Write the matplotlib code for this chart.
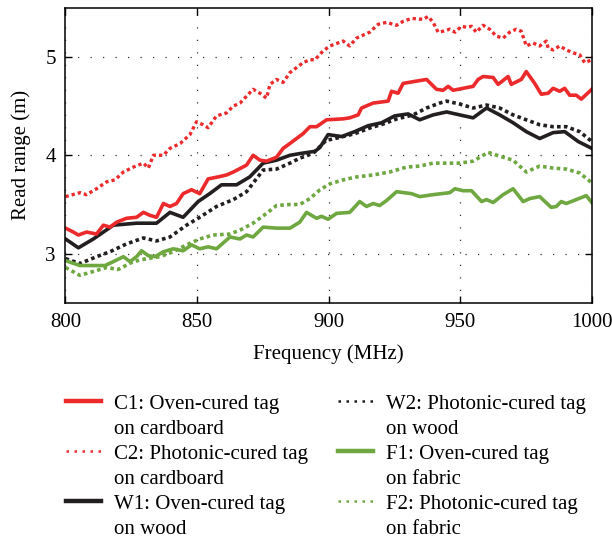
import matplotlib.pyplot as plt
from matplotlib.lines import Line2D

# C1: oven-cured tag on cardboard
c1_f = [800, 803, 804.9, 808, 811.8, 814.4, 816.9, 819.4, 823.2, 827, 829.6, 832.1, 834.6, 837.2,
        839.7, 842.2, 844.7, 847.9, 851, 854.2, 858, 861.2, 863.8, 868.8, 871.3, 873.9, 876.4, 880.2,
        882.7, 885.3, 887.8, 890.3, 892.9, 895.4, 899.2, 905.5, 908, 911.2, 912.5, 916.9, 922.6, 923.9,
        926.4, 928.3, 932.7, 937.2, 941, 943.5, 945.4, 947.3, 954.9, 956.8, 958.7, 962.5, 964.4, 968.2,
        969.4, 973.2, 975.1, 978.3, 980.8, 983.4, 985.3, 987.8, 989.7, 991.6, 994.1, 996, 1000]
c1_v = [3.26, 3.22, 3.19, 3.22, 3.20, 3.29, 3.27, 3.32, 3.36, 3.37, 3.42, 3.39, 3.37, 3.51,
        3.48, 3.51, 3.61, 3.65, 3.61, 3.76, 3.78, 3.80, 3.83, 3.90, 4.00, 3.95, 3.94, 3.98,
        4.07, 4.12, 4.17, 4.22, 4.29, 4.29, 4.36, 4.37, 4.38, 4.41, 4.48, 4.53, 4.55, 4.65,
        4.63, 4.73, 4.75, 4.77, 4.67, 4.66, 4.70, 4.66, 4.70, 4.77, 4.80, 4.79, 4.72, 4.80,
        4.72, 4.77, 4.85, 4.73, 4.62, 4.63, 4.68, 4.65, 4.68, 4.61, 4.61, 4.57, 4.67]

# C2: photonic-cured tag on cardboard
c2_f = [800, 805.5, 808, 811.8, 815.6, 818.8, 822, 825.8, 829.6, 831.5, 833.4, 837.2, 839.7, 843.6,
        847.3, 849.8, 852.3, 854.2, 857.4, 861.2, 863.8, 866.3, 868.8, 871.3, 873.9, 876.4, 877.7, 880.2,
        882.7, 885.3, 887.8, 890.3, 892.8, 894.8, 897.9, 900.5, 905.5, 908, 910.6, 915.6, 918.8, 922,
        925.8, 928.3, 931.5, 935.9, 937.8, 939.7, 941.6, 943.5, 946, 948, 950.5, 952.4, 954.3, 956.1,
        958.7, 961.2, 963.7, 966.3, 968.8, 971.3, 973.2, 975.1, 977.7, 980.2, 982.7, 983.4, 985.3, 987.8,
        990.3, 992.9, 995.4, 997.3, 1000]
c2_v = [3.58, 3.62, 3.60, 3.66, 3.73, 3.75, 3.83, 3.88, 3.92, 3.87, 4.00, 4.00, 4.07, 4.12,
        4.21, 4.34, 4.31, 4.28, 4.40, 4.43, 4.50, 4.53, 4.60, 4.67, 4.63, 4.58, 4.72, 4.77,
        4.74, 4.84, 4.89, 4.94, 4.97, 4.97, 5.06, 5.11, 5.16, 5.11, 5.19, 5.25, 5.33, 5.35,
        5.32, 5.36, 5.39, 5.38, 5.41, 5.35, 5.25, 5.26, 5.28, 5.25, 5.31, 5.30, 5.31, 5.25,
        5.32, 5.28, 5.21, 5.19, 5.25, 5.28, 5.26, 5.11, 5.14, 5.11, 5.16, 5.09, 5.07, 5.11,
        5.07, 5.04, 5.02, 4.94, 4.97]

# W1: oven-cured tag on wood
w1_f = [800, 804.9, 810.6, 818.2, 827, 834.6, 839.7, 844.7, 850.4, 854.8, 859.3, 865, 870, 875.1,
        880.2, 885.3, 889.7, 894.8, 896.7, 899.8, 904.9, 909.9, 915, 920.1, 925.1, 930.2, 934.6, 939.7,
        944.8, 949.8, 954.9, 960, 965, 970.1, 975.1, 980.2, 985.3, 989.7, 994.8, 1000]
w1_v = [3.15, 3.06, 3.15, 3.29, 3.31, 3.31, 3.42, 3.37, 3.53, 3.61, 3.70, 3.70, 3.78, 3.92,
        3.95, 4.00, 4.02, 4.04, 4.08, 4.21, 4.19, 4.24, 4.30, 4.33, 4.40, 4.42, 4.36, 4.41,
        4.44, 4.41, 4.38, 4.48, 4.41, 4.33, 4.24, 4.17, 4.23, 4.24, 4.14, 4.07]

# W2: photonic-cured tag on wood
w2_f = [800, 805.5, 811.8, 816.9, 823.2, 829.6, 834.6, 839.7, 846, 851, 857.4, 863.8, 868.8, 875.1,
        880.2, 885.3, 889, 894.1, 899, 904, 910, 916, 921, 926, 932.1, 937.2, 942.2, 944.8, 949.8,
        954.9, 960, 965, 970.1, 975.1, 980.2, 985.3, 990.3, 995.4, 1000]
w2_v = [2.95, 2.90, 2.97, 3.02, 3.10, 3.16, 3.13, 3.17, 3.29, 3.37, 3.48, 3.55, 3.63, 3.85,
        3.86, 3.92, 3.97, 4.02, 4.15, 4.18, 4.22, 4.28, 4.32, 4.37, 4.41, 4.48, 4.53, 4.55, 4.52,
        4.48, 4.51, 4.48, 4.41, 4.36, 4.31, 4.29, 4.29, 4.24, 4.14]

# F1: oven-cured tag on fabric
f1_f = [800, 805.5, 810.6, 815, 818.2, 822, 824.5, 827, 828.9, 831.5, 834, 837.2, 840.9, 844.7,
        847.9, 851, 854.2, 857.4, 862.5, 866.3, 868.8, 871.3, 875.1, 880.2, 885.3, 889, 891.6, 895.4,
        897.3, 899.8, 903, 908, 911.8, 914.4, 916.9, 919.4, 922, 925.8, 931.5, 934.6, 939.7, 946,
        948, 951.1, 954.3, 958.1, 960, 962.5, 966.3, 970.1, 973.9, 976.4, 980.2, 984.6, 986.5, 988.4,
        990.3, 994.1, 997.9, 1000]
f1_v = [2.93, 2.88, 2.88, 2.88, 2.92, 2.97, 2.92, 2.97, 3.03, 2.98, 2.97, 3.02, 3.05, 3.03,
        3.09, 3.05, 3.07, 3.05, 3.17, 3.15, 3.19, 3.17, 3.27, 3.26, 3.26, 3.32, 3.42, 3.36,
        3.38, 3.35, 3.41, 3.42, 3.53, 3.48, 3.51, 3.49, 3.54, 3.63, 3.61, 3.58, 3.60, 3.62,
        3.66, 3.64, 3.64, 3.53, 3.55, 3.52, 3.60, 3.66, 3.53, 3.56, 3.58, 3.47, 3.48, 3.53,
        3.51, 3.55, 3.59, 3.52]

# F2: photonic-cured tag on fabric
f2_f = [800, 805.5, 810.6, 815.6, 820, 825.8, 830.8, 835.9, 840.9, 846, 851, 856.1, 862.5, 866.3,
        871.3, 876.4, 880.2, 885.3, 889, 892.9, 896.7, 900.5, 905.5, 910.6, 916.9, 923.2, 929.6, 934.6,
        939.7, 944.8, 949.8, 954.9, 958.1, 960.6, 965, 970.1, 975.1, 980.2, 985.3, 990.3, 995.4, 1000]
f2_v = [2.86, 2.78, 2.82, 2.86, 2.84, 2.92, 2.95, 2.97, 3.02, 3.09, 3.15, 3.19, 3.20, 3.24,
        3.31, 3.41, 3.49, 3.50, 3.50, 3.56, 3.65, 3.71, 3.75, 3.78, 3.80, 3.83, 3.88, 3.89,
        3.92, 3.92, 3.92, 3.94, 3.99, 4.03, 3.99, 3.95, 3.83, 3.89, 3.87, 3.86, 3.82, 3.72]

labels = [('C1: Oven-cured tag', 'on cardboard'), ('C2: Photonic-cured tag', 'on cardboard'),
          ('W1: Oven-cured tag', 'on wood'), ('W2: Photonic-cured tag', 'on wood'),
          ('F1: Oven-cured tag', 'on fabric'), ('F2: Photonic-cured tag', 'on fabric')]

red = '#ec2a2c'
black = '#231f20'
green = '#6fa841'
dots = (0, (1, 0.9))

plt.rcParams['font.family'] = 'Liberation Serif'
plt.rcParams['font.size'] = 15

W, H = 612, 541
fig = plt.figure(figsize=(W / 100, H / 100), dpi=100)
ax = fig.add_axes([0.107, 0.44, 0.86, 0.546])

ax.plot(c2_f, c2_v, color=red, lw=2.4, ls=dots)
ax.plot(f2_f, f2_v, color=green, lw=2.6, ls=dots)
ax.plot(w2_f, w2_v, color=black, lw=2.6, ls=dots)
ax.plot(f1_f, f1_v, color=green, lw=2.6)
ax.plot(w1_f, w1_v, color=black, lw=2.6)
ax.plot(c1_f, c1_v, color=red, lw=2.6)

ax.set_xlim(800, 1000)
ax.set_ylim(2.5, 5.5)
ax.set_xticks([800, 850, 900, 950, 1000])
ax.set_yticks([3, 4, 5])
ax.grid(True, color='#333333', lw=0.9, ls=(0, (1, 9)))
ax.tick_params(direction='in', top=True, right=True, length=5, width=1, pad=7)
for s in ax.spines.values():
    s.set_linewidth(1.1)
ax.set_xlabel('Frequency (MHz)', labelpad=9)
ax.set_ylabel('Read range (m)', labelpad=10)

# legend drawn by hand: handle lines up with the first text line
styles = [(red, '-'), (red, ':'), (black, '-'), (black, ':'), (green, '-'), (green, ':')]
for i, (lab, (col, ls)) in enumerate(zip(labels, styles)):
    c, r = divmod(i, 3)
    x0 = 66 + c * 272
    y0 = 401 + r * 50
    if ls == '-':
        fig.add_artist(Line2D([x0 / W, (x0 + 35) / W], [1 - y0 / H] * 2, color=col, lw=3.2))
    else:
        fig.add_artist(Line2D([x0 / W, (x0 + 35) / W], [1 - y0 / H] * 2, color=col, lw=1.8,
                              ls=(0, (1, 2.2))))
    tx = (x0 + 48) / W
    fig.text(tx, 1 - (y0 + 8) / H, lab[0], va='baseline', ha='left')
    fig.text(tx, 1 - (y0 + 33) / H, lab[1], va='baseline', ha='left')

plt.savefig('out.png', dpi=100)
